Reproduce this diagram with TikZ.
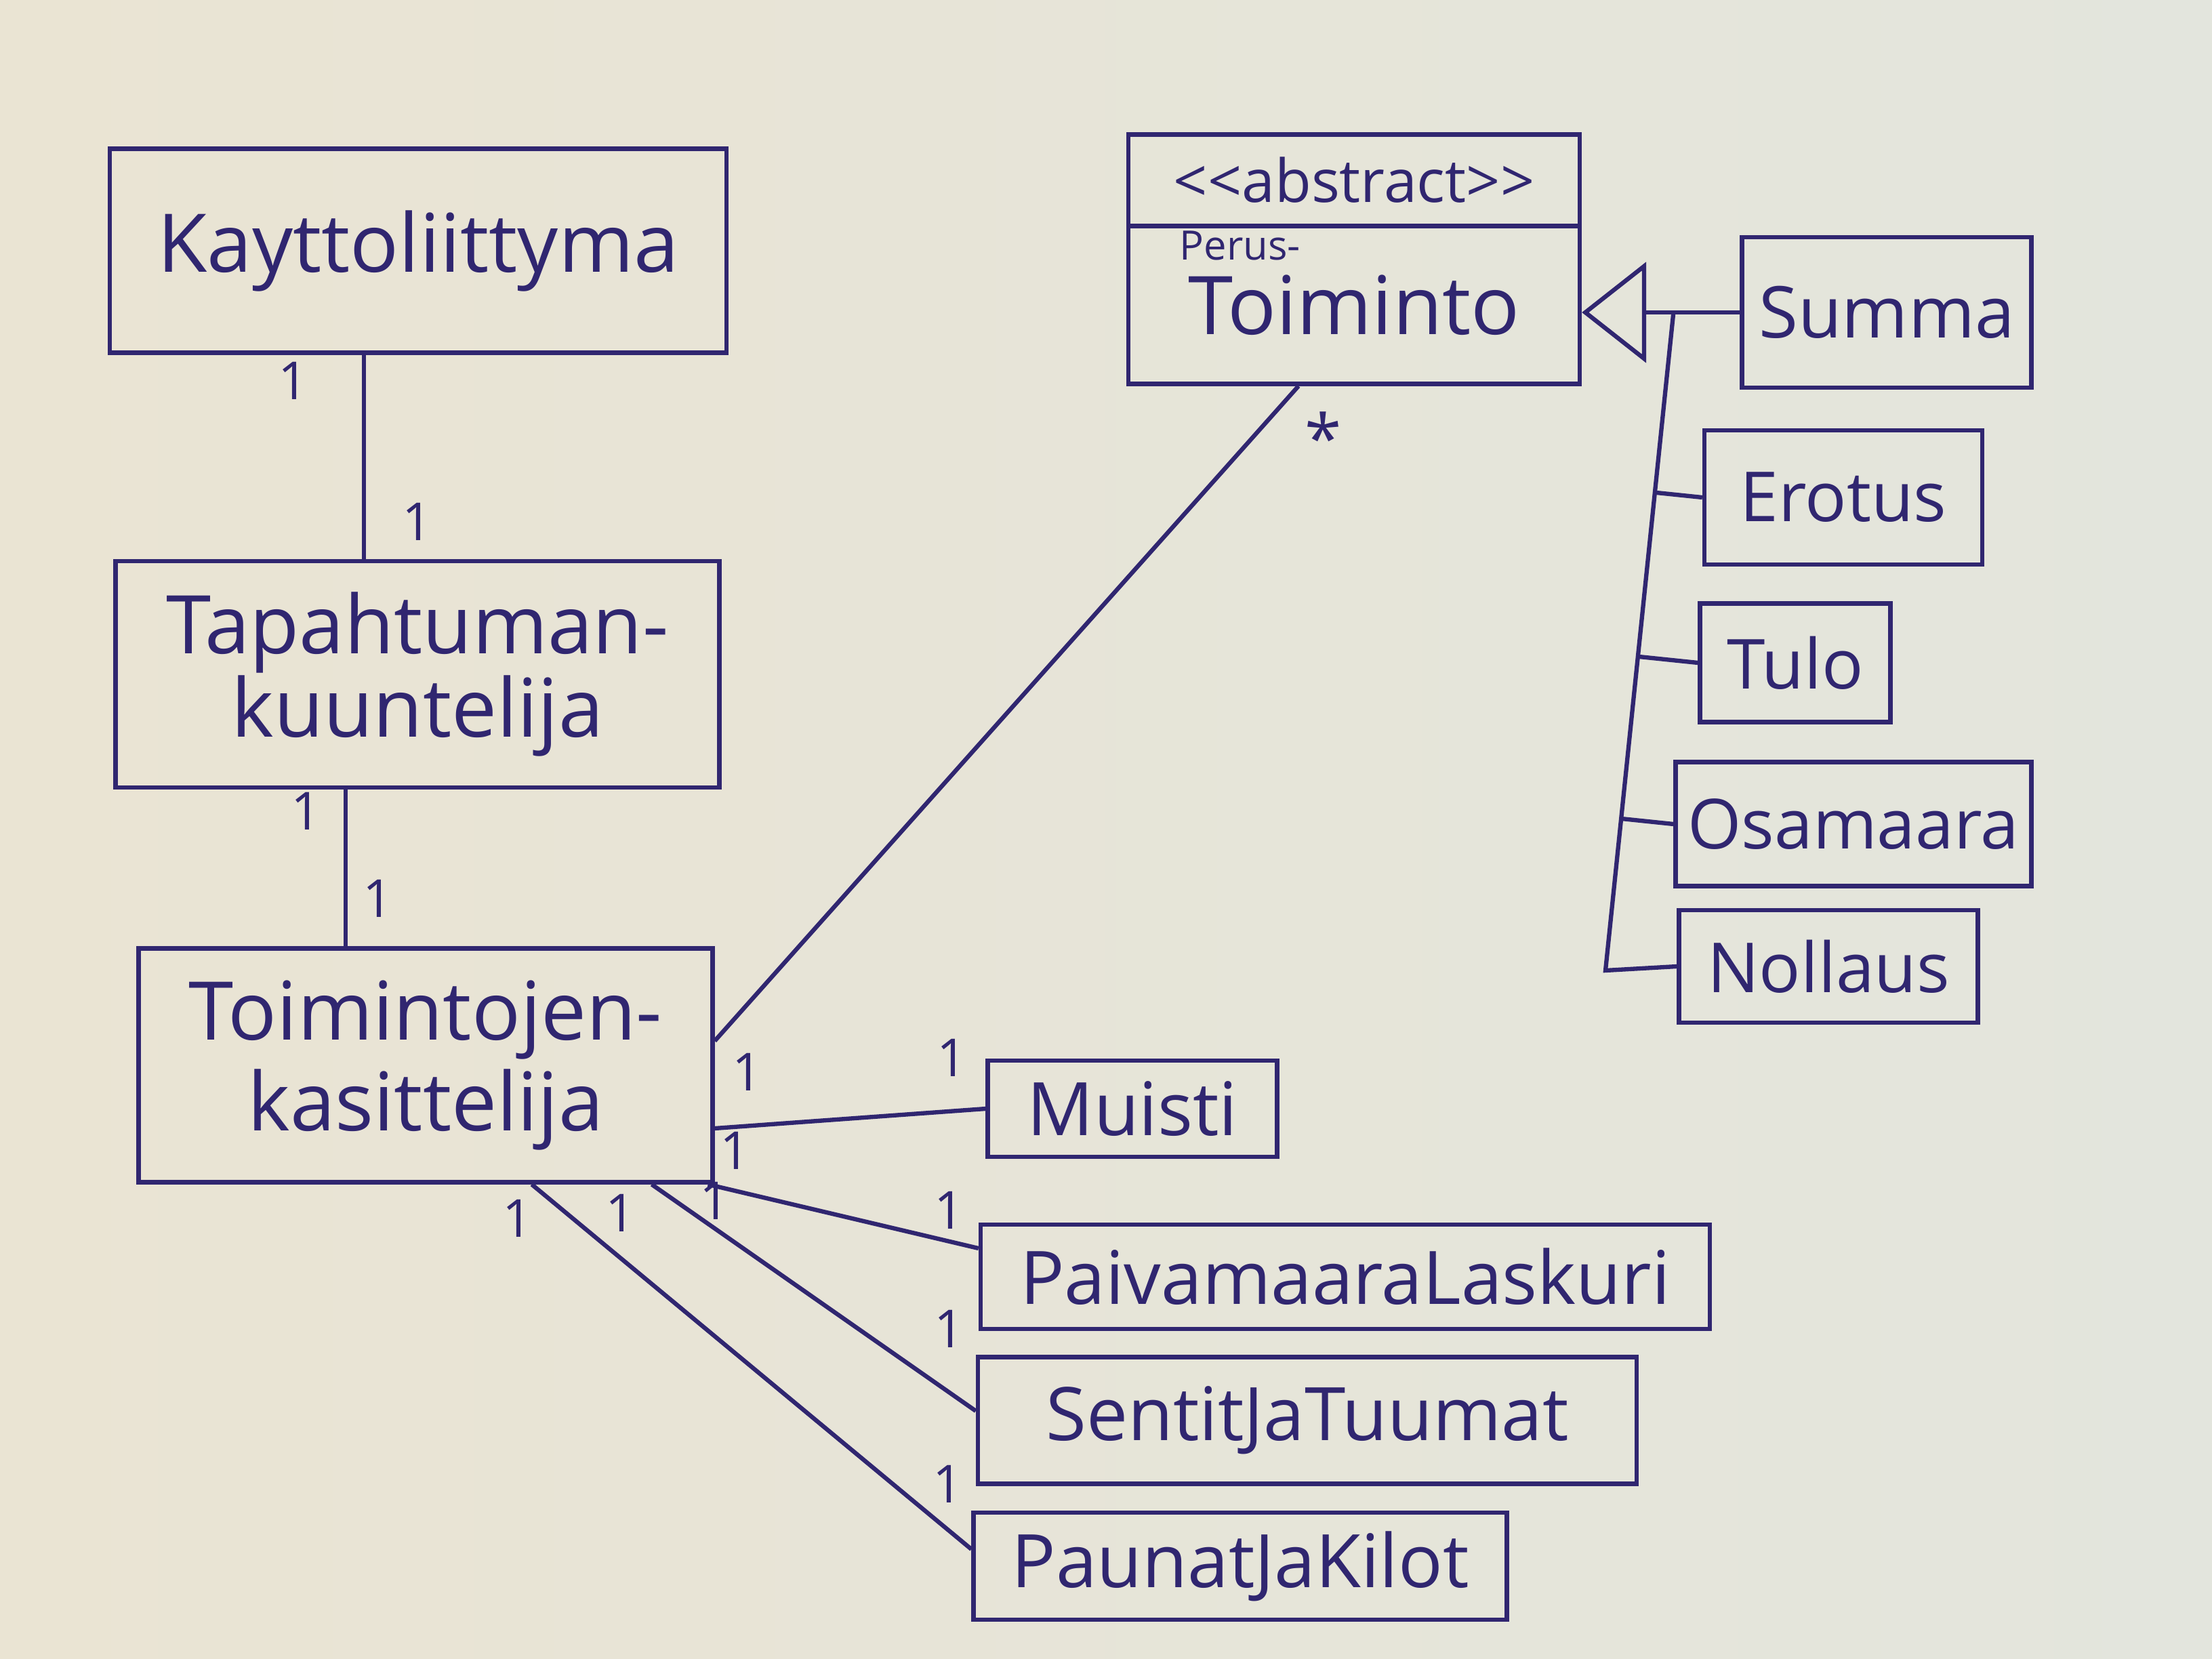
\documentclass[tikz,border=0pt]{standalone}
\usepackage{fontspec}
\setmainfont{Open Sans}
\usetikzlibrary{arrows.meta,calc,positioning}
\definecolor{ink}{RGB}{48,38,112}
\definecolor{paperL}{RGB}{234,228,211}
\definecolor{paperR}{RGB}{227,229,221}
\tikzset{
  cls/.style={draw=ink, line width=1.8pt, text=ink, inner sep=0pt, align=center, font=\fontsize{34}{32}\selectfont},
  clsmid/.style={cls, font=\fontsize{29}{32}\selectfont},
  clslow/.style={cls, font=\fontsize{31}{34}\selectfont},
  mult/.style={text=ink, inner sep=0pt, font=\fontsize{22}{24}\selectfont},
  conn/.style={draw=ink, line width=1.8pt},
}

\begin{document}
\begin{tikzpicture}
    % Le papier
    \fill[left color=paperL, right color=paperR] (0,0) rectangle (32.64,-24.48);
    \useasboundingbox (0,0) rectangle (32.64,-24.48);

    % Colonne de gauche
    \node[cls, minimum width=9.10cm, minimum height=3.01cm] (kay) at (6.17,-3.70) {Kayttoliittyma};
    \node[cls, minimum width=8.91cm, minimum height=3.34cm] (tap) at (6.16,-9.95) {Tapahtuman-\\kuuntelija};
    \node[cls, font=\fontsize{34}{38}\selectfont, minimum width=8.47cm, minimum height=3.45cm] (tk) at (6.28,-15.72) {Toimintojen-\\kasittelija};

    % Classe abstraite
    \node[cls, font=\fontsize{25}{28}\selectfont, minimum width=6.66cm, minimum height=1.35cm] (abs) at (19.98,-2.66) {{<}{<}abstract{>}{>}};
    \node[cls, minimum width=6.66cm, minimum height=2.33cm, below=-1.8pt of abs] (perus) {\raisebox{-0.2cm}{Toiminto}};
    \node[mult, font=\fontsize{17}{18}\selectfont] (perusl) at (18.30,-3.62) {Perus-};

    % Sous-classes
    \node[cls, font=\fontsize{30}{32}\selectfont, minimum width=4.27cm, minimum height=2.22cm] (summa) at (27.84,-4.61) {Summa};
    \node[clsmid, minimum width=4.10cm, minimum height=1.98cm] (erotus) at (27.20,-7.34) {Erotus};
    \node[clsmid, minimum width=2.81cm, minimum height=1.75cm] (tulo) at (26.49,-9.78) {Tulo};
    \node[clsmid, minimum width=5.25cm, minimum height=1.83cm] (osa) at (27.35,-12.16) {Osamaara};
    \node[clsmid, minimum width=4.41cm, minimum height=1.66cm] (noll) at (26.98,-14.26) {Nollaus};

    % Toiminnot en bas
    \node[clslow, minimum width=4.27cm, minimum height=1.42cm] (muisti) at (16.71,-16.36) {Muisti};
    \node[clslow, minimum width=10.76cm, minimum height=1.54cm] (paiva) at (19.85,-18.84) {PaivamaaraLaskuri};
    \node[clslow, minimum width=9.72cm, minimum height=1.87cm] (sentit) at (19.29,-20.96) {SentitJaTuumat};
    \node[clslow, minimum width=7.87cm, minimum height=1.58cm] (paunat) at (18.30,-23.11) {PaunatJaKilot};

    % Associations
    \draw[conn] ([xshift=-0.80cm]kay.south) -- ([xshift=-0.80cm]kay.south |- tap.north);
    \draw[conn] ([xshift=-1.06cm]tap.south) -- ([xshift=-1.06cm]tap.south |- tk.north);
    \draw[conn] ([yshift=0.36cm]tk.east) -- ([xshift=-0.82cm]perus.south);
    \draw[conn] ([yshift=-0.93cm]tk.east) -- (muisti.west);
    \draw[conn] ([xshift=-0.10cm]tk.south east) -- ([yshift=0.42cm]paiva.west);
    \draw[conn] ([xshift=-0.93cm]tk.south east) -- ([yshift=0.14cm]sentit.west);
    \draw[conn] ([xshift=-2.70cm]tk.south east) -- ([yshift=0.25cm]paunat.west);

    % Heritage
    \draw[conn, -{Triangle[open, length=0.95cm, width=1.48cm]}] (summa.west) -- (summa.west -| perus.east);
    \coordinate (bustop) at ($(summa.west)+(-0.98,0)$);
    \coordinate (busbot) at (23.69,-14.32);
    \draw[conn] (bustop) -- (busbot) -- (noll.west);
    \foreach \k in {erotus,tulo,osa}
        \draw[conn] (\k.west) -- ($(bustop)!(\k.west)!(busbot)$);

    % Multiplicites
    \node[mult] (mkay) at (4.33,-5.62) {1};
    \node[mult] (mtap) at (6.16,-7.70) {1};
    \node[mult] (mtapb) at (4.52,-11.97) {1};
    \node[mult] (mtk) at (5.58,-13.26) {1};
    \node[mult] (mtkt) at (11.03,-15.82) {1};
    \node[mult, font=\fontsize{28}{30}\selectfont] (mstar) at (19.53,-6.45) {*};
    \node[mult] (mmui) at (14.05,-15.61) {1};
    \node[mult] (mpai) at (14.01,-17.86) {1};
    \node[mult] (msen) at (14.01,-19.61) {1};
    \node[mult] (mpau) at (13.99,-21.90) {1};
    \node[mult] (mtk1) at (10.85,-16.98) {1};
    \node[mult] (mtk2) at (10.55,-17.72) {1};
    \node[mult] (mtk3) at (9.16,-17.90) {1};
    \node[mult] (mtk4) at (7.64,-17.98) {1};
\end{tikzpicture}
\end{document}
